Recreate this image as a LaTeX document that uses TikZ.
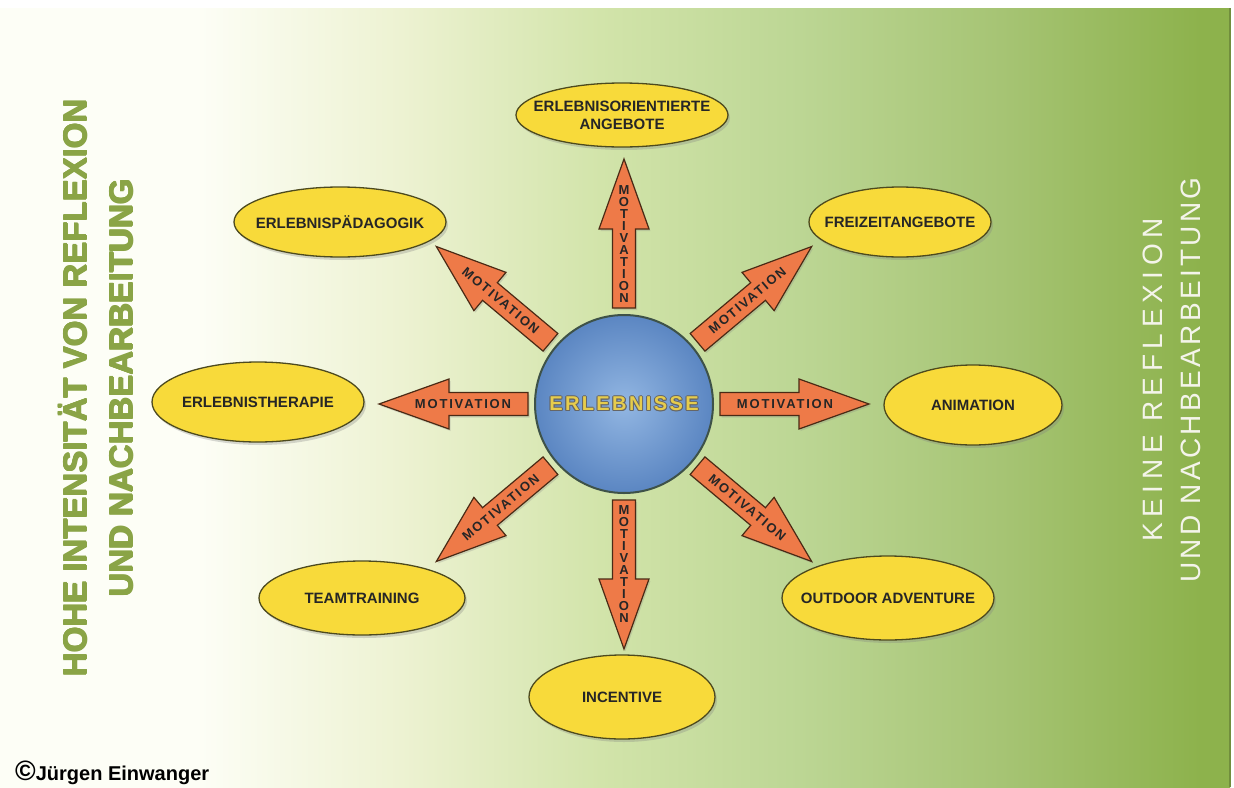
\documentclass[tikz,border=0pt]{standalone}
\usepackage{fontspec}
\setmainfont{Liberation Sans}
\newfontfamily\motfont[LetterSpace=14]{Liberation Sans}
\newfontfamily\hubfont[LetterSpace=12]{Liberation Sans}
\newfontfamily\widefont[LetterSpace=12]{Liberation Sans}
\usetikzlibrary{shapes.geometric, shadows, positioning}

\definecolor{eggyellow}{HTML}{F8DA3A}
\definecolor{eggline}{HTML}{4D4A1E}
\definecolor{arrfill}{HTML}{EE7A48}
\definecolor{arrline}{HTML}{4A2A15}
\definecolor{ballin}{HTML}{92B6E2}
\definecolor{ballout}{HTML}{5B86C2}
\definecolor{ballline}{HTML}{3E5248}
\definecolor{goldtxt}{HTML}{E6CC4C}
\definecolor{oliv}{HTML}{8AA446}
\definecolor{paletxt}{HTML}{F4F4EA}
\definecolor{bgA}{HTML}{FDFEF6}
\definecolor{bgB}{HTML}{EDF2D2}
\definecolor{bgC}{HTML}{D2E4AA}
\definecolor{bgD}{HTML}{BCD694}
\definecolor{bgE}{HTML}{A6C474}
\definecolor{bgF}{HTML}{8DB24C}

\pgfdeclarehorizontalshading{bgshade}{100bp}{color(0bp)=(bgA); color(33bp)=(bgA);
  color(41.3bp)=(bgB); color(49.4bp)=(bgC); color(57.5bp)=(bgD);
  color(65.7bp)=(bgE); color(73.8bp)=(bgF); color(100bp)=(bgF)}

\begin{document}
\begin{tikzpicture}[x=1pt, y=-1pt,
    offer/.style={ellipse, draw=eggline, line width=1.3pt, fill=eggyellow, inner sep=0pt,
      drop shadow={shadow xshift=2pt, shadow yshift=-3pt, opacity=0.3}},
    offertxt/.style={align=center, font=\bfseries\fontsize{15}{18}\selectfont, text=black!85},
    motarrow/.style={fill=arrfill, draw=arrline, line width=1.2pt,
      drop shadow={shadow xshift=1.5pt, shadow yshift=-2pt, opacity=0.25}},
    mot/.style={font=\motfont\bfseries\fontsize{13}{12}\selectfont, inner sep=0pt, text=black!85},
    hubword/.style={font=\hubfont\bfseries\fontsize{20}{20}\selectfont},
    hohetxt/.style={rotate=90, text=oliv, align=center, font=\bfseries\fontsize{33}{46}\selectfont}]
  \useasboundingbox (0,0) rectangle (1234,787);
  % background
  \shade[shading=bgshade] (0,8) rectangle (1230,787);
  \fill[bgF!80!black] (1229,8) rectangle (1231,787);

  % hub position
  \coordinate (hubc) at (624,404);

  % arrows
  \foreach \a in {90,40,0,-40,-90,-140,180,140}{
    \begin{scope}[shift={(hubc)}, rotate=\a]
      \draw[motarrow] (96,-11.5) -- (175,-11.5) -- (175,-25) -- (245,0)
        -- (175,25) -- (175,11.5) -- (96,11.5) -- cycle;
    \end{scope}
  }
  \foreach \a/\t in {40/40, 0/0, -40/-40, -140/40, 180/0, 140/-40}{
    \begin{scope}[shift={(hubc)}, rotate=\a]
      \node[mot, rotate=\t] (m\a) at (161,0) {MOTIVATION};
    \end{scope}
  }
  \foreach \a in {90,-90}{
    \begin{scope}[shift={(hubc)}, rotate=\a]
      \node[mot, align=center] (m\a) at (160,0) {M\\O\\T\\I\\V\\A\\T\\I\\O\\N};
    \end{scope}
  }

  % centre
  \node[circle, minimum size=178pt, inner color=ballin, outer color=ballout,
    draw=ballline, line width=2pt] (hub) at (hubc) {};
  \foreach \dx/\dy in {-1/0, 1/0, 0/-1, 0/1, -0.8/-0.8, 0.8/0.8, -0.8/0.8, 0.8/-0.8}
    \node[hubword, text=black!60] at (624+\dx,404+\dy) {ERLEBNISSE};
  \node[hubword, text=goldtxt] (hubtxt) at (hub.center) {ERLEBNISSE};

  % offers
  \node[offer, minimum width=212pt, minimum height=64pt,
    label={[offertxt]center:ERLEBNISORIENTIERTE\\ANGEBOTE}] (angebote) at (622,115) {};
  \node[offer, minimum width=182pt, minimum height=70pt,
    label={[offertxt]center:FREIZEITANGEBOTE}] (freizeit) at (900,222) {};
  \node[offer, minimum width=178pt, minimum height=80pt,
    label={[offertxt]center:ANIMATION}] (animation) at (973,405) {};
  \node[offer, minimum width=212pt, minimum height=84pt,
    label={[offertxt]center:OUTDOOR ADVENTURE}] (outdoor) at (888,598) {};
  \node[offer, minimum width=186pt, minimum height=84pt,
    label={[offertxt]center:INCENTIVE}] (incentive) at (622,697) {};
  \node[offer, minimum width=206pt, minimum height=74pt,
    label={[offertxt]center:TEAMTRAINING}] (team) at (362,598) {};
  \node[offer, minimum width=212pt, minimum height=80pt,
    label={[offertxt]center:ERLEBNISTHERAPIE}] (therapie) at (258,402) {};
  \node[offer, minimum width=212pt, minimum height=70pt,
    label={[offertxt]center:ERLEBNISPÄDAGOGIK}] (paedagogik) at (340,222) {};

  % side texts
  \foreach \dx/\dy in {-0.7/0, 0.7/0, 0/-0.7, 0/0.7}
    \node[hohetxt] at (96+\dx,388+\dy) {HOHE INTENSITÄT VON REFLEXION\\UND NACHBEARBEITUNG};
  \node[hohetxt] (hohe) at (96,388) {HOHE INTENSITÄT VON REFLEXION\\UND NACHBEARBEITUNG};
  \node[rotate=90, text=paletxt, align=center, font=\widefont\fontsize{28}{38}\selectfont]
    (keine) at (1172,380) {{\addfontfeature{LetterSpace=20}KEINE REFLEXION}\\UND NACHBEARBEITUNG};

  % copyright
  \node[anchor=west, font=\bfseries\fontsize{20}{20}\selectfont, inner sep=0pt]
    (copy) at (15,773) {{\fontsize{28}{28}\selectfont\textcopyright}Jürgen Einwanger};
\end{tikzpicture}
\end{document}
